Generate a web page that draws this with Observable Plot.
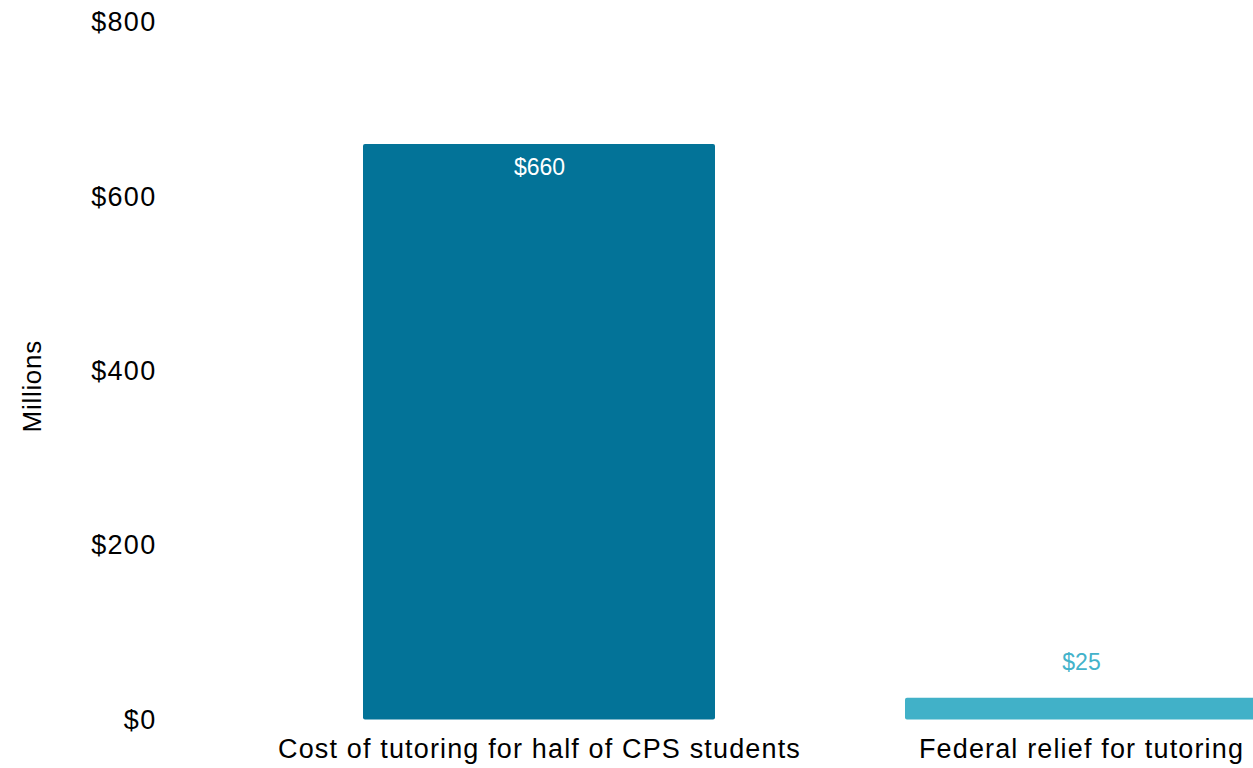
<!DOCTYPE html>
<html><head><meta charset="utf-8">
<script src="https://cdn.jsdelivr.net/npm/d3@7"></script>
<script src="https://cdn.jsdelivr.net/npm/@observablehq/plot@0.6"></script>
<style>
html,body{margin:0;padding:0;background:#fff;overflow:hidden;}
svg{font-family:"Liberation Sans",Arial,sans-serif;}
g[aria-label="x-axis tick label"] text{letter-spacing:1.15px;}
g[aria-label="y-axis tick label"] text{letter-spacing:1.3px;}
g.ylabel text{letter-spacing:0.7px;}
</style></head>
<body><div id="chart"></div>
<script>
const categories = ["Cost of tutoring for half of CPS students", "Federal relief for tutoring"];
const values = [660, 25];
const barColors = ["#037398", "#41b1c8"];
const labelColors = ["#ffffff", "#43b2ca"];
const yTicks = [0, 200, 400, 600, 800];
const yLabel = "Millions";

const data = categories.map((c, i) => ({category: c, value: values[i], label: "$" + values[i]}));

const chart = Plot.plot({
  width: 1253,
  height: 768,
  marginTop: 22,
  marginBottom: 48.5,
  marginLeft: 165,
  marginRight: 0,
  style: {fontFamily: '"Liberation Sans", Arial, sans-serif', color: "#000", background: "#fff"},
  x: {domain: categories, range: [172, 1448], paddingInner: 0.35, paddingOuter: 0.35},
  y: {domain: [0, 800]},
  color: {domain: categories, range: barColors},
  marks: [
    Plot.barY(data, {x: "category", y: "value", fill: "category", rx: 2}),
    Plot.text(data.filter((d, i) => i === 0), {x: "category", y: "value", text: "label", fill: labelColors[0], dy: 23, fontSize: 23}),
    Plot.text(data.filter((d, i) => i === 1), {x: "category", y: "value", text: "label", fill: labelColors[1], dy: -36, fontSize: 23}),
    Plot.axisY({ticks: yTicks, tickFormat: d => "$" + d, tickSize: 0, tickPadding: 9, fontSize: 27, label: null}),
    Plot.axisX({tickSize: 0, tickPadding: 19, fontSize: 27, label: null}),
    Plot.text([yLabel], {frameAnchor: "left", textAnchor: "middle", dx: -133, dy: 15, rotate: -90, fontSize: 26, fill: "#000", className: "ylabel"})
  ]
});
document.getElementById("chart").appendChild(chart);
</script>
</body></html>
